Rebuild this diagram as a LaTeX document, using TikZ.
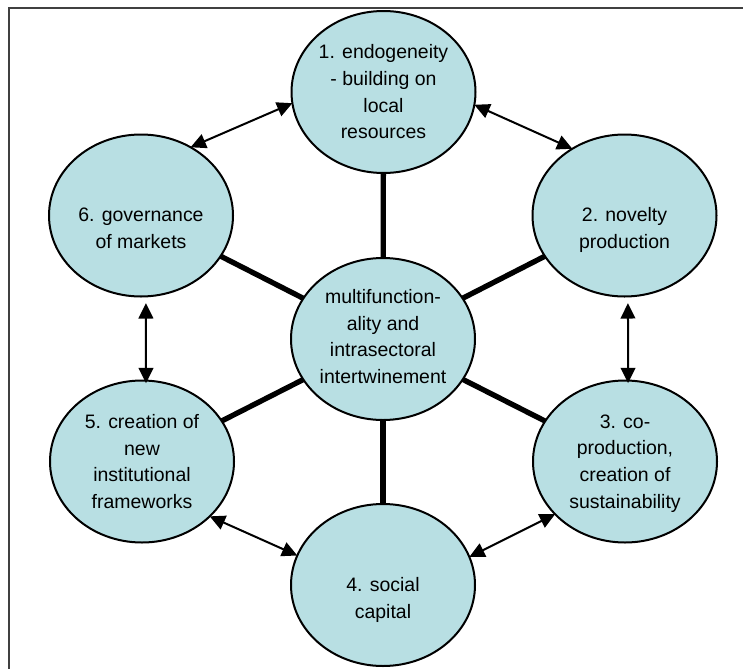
\documentclass[tikz,border=0pt]{standalone}
\usepackage{fontspec}
\setmainfont{Liberation Sans}
\usetikzlibrary{shapes.geometric,arrows.meta}
\definecolor{bubblefill}{RGB}{184,223,227}

\begin{document}
\begin{tikzpicture}[x=0.75pt,y=0.75pt,yscale=-1,xscale=1,
  bubble/.style={draw, ellipse, fill=bubblefill, line width=1.5pt, minimum width=138pt, minimum height=121.5pt, inner sep=0pt, outer sep=0pt},
  txt/.style={align=center, inner sep=0pt, font=\fontsize{14.6}{20}\selectfont},
  spoke/.style={line width=4pt},
  dbl/.style={{Triangle[length=11.5pt,width=11pt]}-{Triangle[length=11.5pt,width=11pt]}, line width=1.5pt}]
%set diagram size: 743 x 668
\useasboundingbox (0,0) rectangle (743,668);
\clip (0,0) rectangle (743,668);

%Frame
\draw [line width=1.2pt, color=black!75] (9,8) rectangle (770,700);

%Shape: Ellipse
\node [bubble] (c) at (383,339) {};
\node [bubble] (n1) at (383.5,92) {};
\node [bubble] (n2) at (624.5,215.5) {};
\node [bubble] (n3) at (625,461.5) {};
\node [bubble] (n4) at (383,585) {};
\node [bubble] (n5) at (142,461.5) {};
\node [bubble] (n6) at (141,215.5) {};

%Straight Lines
\foreach \n in {n1,n2,n3,n4,n5,n6}
  \draw [spoke] (c) -- (\n);

%Arrows
\draw [dbl] (n1.187) -- (n6.54);
\draw [dbl] (n1.352) -- (n2.128);
\draw [dbl, shorten <=5pt, shorten >=-2pt] ([xshift=2.6pt]n2.south) -- ([xshift=2.3pt]n3.north);
\draw [dbl] (n3.217) -- (n4.18);
\draw [dbl] (n4.161) -- (n5.321);
\draw [dbl, shorten <=5pt, shorten >=-2pt] ([xshift=3.7pt]n6.south) -- ([xshift=3pt]n5.north);

% Text Node
\node [txt] (tc) at (383,336.5) {multifunction-\\ality and\\intrasectoral\\intertwinement};
% Text Node
\node [txt] (t1) at (383.5,92) {1. endogeneity\\- building on\\local\\resources};
% Text Node
\node [txt] (t2) at (624.5,230) {2. novelty\\production};
% Text Node
\node [txt] (t3) at (625,463.5) {3. co-\\production,\\creation of\\sustainability};
% Text Node
\node [txt] (t4) at (383,600) {4. social\\capital};
% Text Node
\node [txt] (t5) at (142,461.5) {5. creation of\\new\\institutional\\frameworks};
% Text Node
\node [txt] (t6) at (141,228) {6. governance\\of markets};

\end{tikzpicture}
\end{document}
